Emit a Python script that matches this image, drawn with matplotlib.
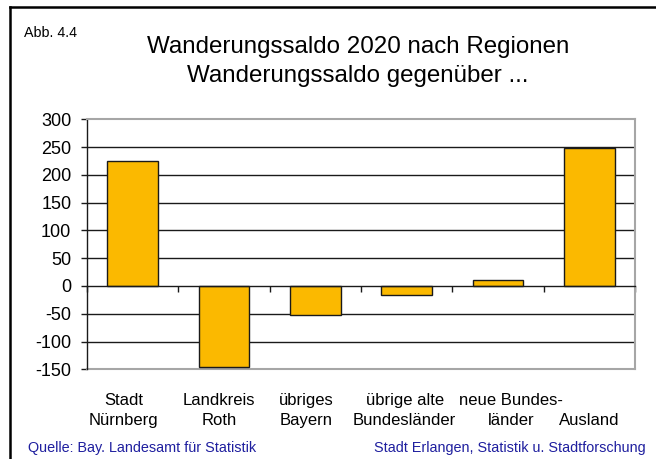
import matplotlib
matplotlib.use("Agg")
import matplotlib.pyplot as plt
from matplotlib.lines import Line2D
import numpy as np

plt.rcParams['font.family'] = ['Liberation Sans', 'DejaVu Sans']
plt.rcParams['axes.unicode_minus'] = False

# ---- data ----
categories = ["Stadt\nNürnberg", "Landkreis\nRoth", "übriges\nBayern",
              "übrige alte\nBundesländer", "neue Bundes-\nländer", "Ausland"]
values = [225, -145, -53, -17, 11, 248]
y_ticks = [-150, -100, -50, 0, 50, 100, 150, 200, 250, 300]
title_line1 = "Wanderungssaldo 2020 nach Regionen"
title_line2 = "Wanderungssaldo gegenüber ..."
fig_label = "Abb. 4.4"
source_left = "Quelle: Bay. Landesamt für Statistik"
source_right = "Stadt Erlangen, Statistik u. Stadtforschung"

# ---- layout ----
W, H = 656, 459
label_dx_px = [-9, -5, -9, -2, 13, 0]   # horizontal nudges of category labels (px)

fig = plt.figure(figsize=(W / 100, H / 100), dpi=100)
ax_left, ax_right, ax_top, ax_bot = 87, 635, 119.3, 369.3
ax = fig.add_axes([ax_left / W, 1 - ax_bot / H, (ax_right - ax_left) / W, (ax_bot - ax_top) / H])

x = np.arange(len(categories))
bar_color = "#FBB900"
ax.bar(x, values, width=0.555, color=bar_color, edgecolor="#1a1a1a", linewidth=1.0, zorder=3)

ymin, ymax = y_ticks[0], y_ticks[-1]
ax.set_ylim(ymin, ymax)
ax.set_xlim(-0.5, len(categories) - 0.5)

# interior gridlines
for t in y_ticks:
    if ymin < t < ymax and t != 0:
        ax.axhline(t, color="#1a1a1a", linewidth=1.0, zorder=1)

# spines
grey = "#a6a6a6"
ax.spines['top'].set_color(grey)
ax.spines['top'].set_linewidth(1.5)
ax.spines['right'].set_color(grey)
ax.spines['right'].set_linewidth(1.5)
ax.spines['left'].set_color("#1a1a1a")
ax.spines['left'].set_linewidth(1.0)
ax.spines['bottom'].set_position(('data', 0))
ax.spines['bottom'].set_color("#1a1a1a")
ax.spines['bottom'].set_linewidth(1.0)
ax.spines['bottom'].set_zorder(4)
ax.axhline(ymin, color=grey, linewidth=1.5, clip_on=False, zorder=2)

# ticks
ax.set_yticks(y_ticks)
ax.set_yticklabels([str(t) for t in y_ticks])
ax.tick_params(axis='y', direction='out', length=4.3, width=1.0, color="#1a1a1a",
               labelsize=13, pad=7)
ax.set_xticks(np.arange(-0.5, len(categories), 1.0))
ax.set_xticklabels([])
ax.tick_params(axis='x', direction='out', length=4.3, width=1.0, color="#1a1a1a")

# category labels (baseline of last line at y=425 px)
cat_y = (ax_bot - 425) / (ax_bot - ax_top)
px_per_cat = (ax_right - ax_left) / len(categories)
for i, lab in enumerate(categories):
    ax.text(i + label_dx_px[i] / px_per_cat, cat_y, lab, transform=ax.get_xaxis_transform(),
            ha='center', va='baseline', multialignment='center', fontsize=12,
            linespacing=1.38, clip_on=False)

# titles and texts
fig.text(358 / W, 1 - 53.3 / H, title_line1, ha='center', va='baseline', fontsize=17.4)
fig.text(358 / W, 1 - 82.3 / H, title_line2, ha='center', va='baseline', fontsize=17.4)
fig.text(24 / W, 1 - 37 / H, fig_label, ha='left', va='baseline', fontsize=10.3)
blue = "#1f1f9f"
fig.text(28 / W, 1 - 452 / H, source_left, ha='left', va='baseline', fontsize=10.4, color=blue)
fig.text(646 / W, 1 - 452 / H, source_right, ha='right', va='baseline', fontsize=10.4, color=blue)

# frame (left and top edges visible)
fig.add_artist(Line2D([10 / W, 10 / W], [0, 1 - 6.5 / H], color="black", linewidth=1.8,
                      transform=fig.transFigure))
fig.add_artist(Line2D([10 / W, 1], [1 - 6.5 / H, 1 - 6.5 / H], color="black", linewidth=1.8,
                      transform=fig.transFigure))

fig.savefig("out.png", dpi=100)
